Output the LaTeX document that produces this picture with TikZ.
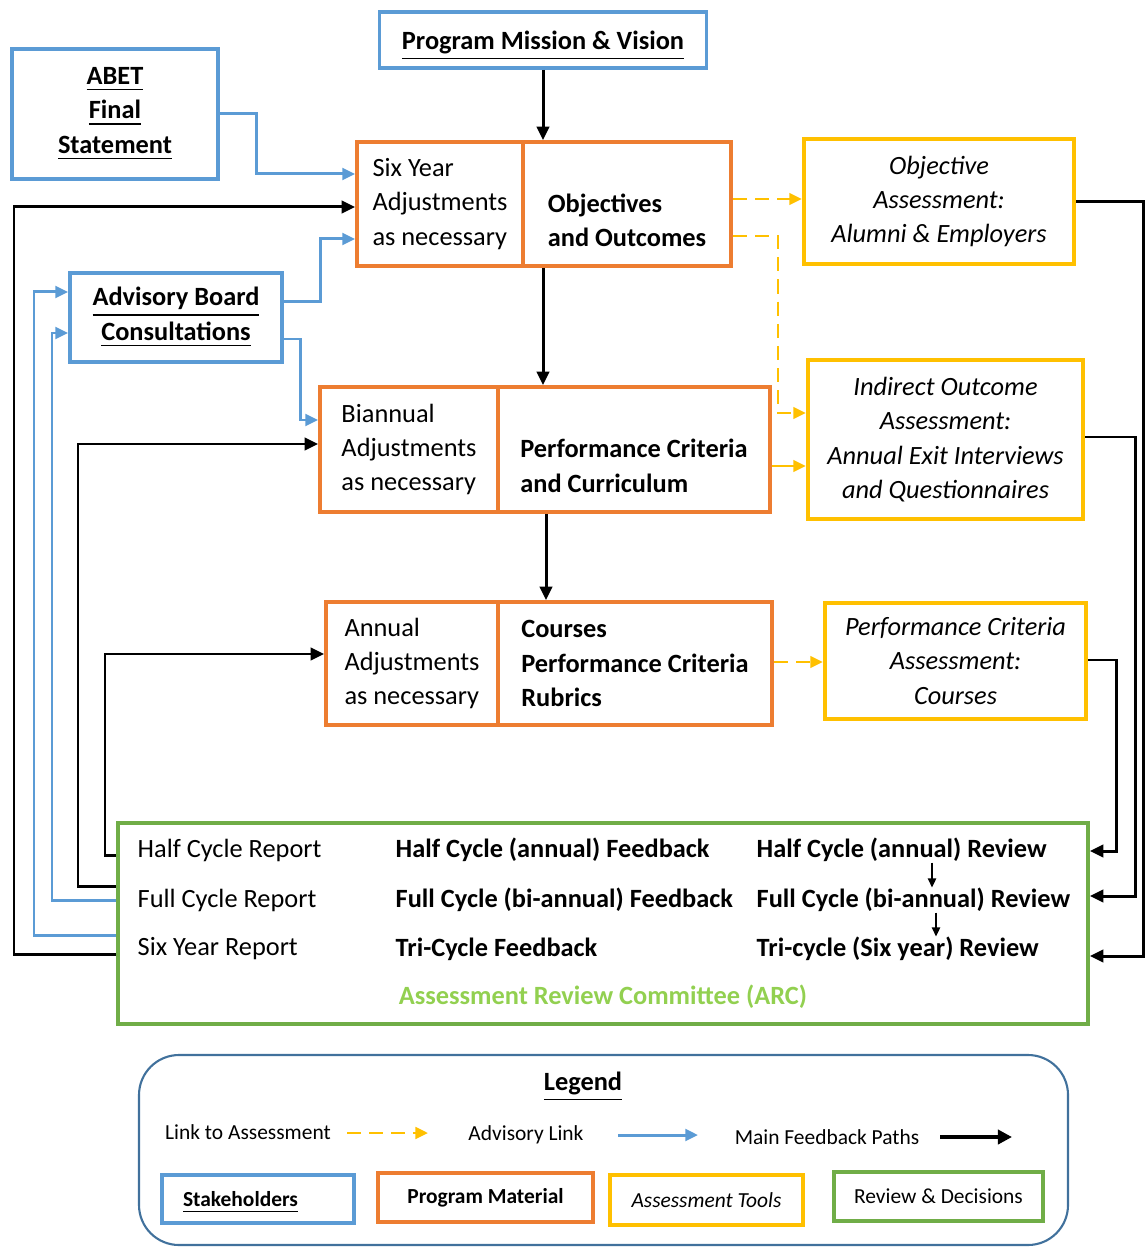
\documentclass[tikz,border=0pt]{standalone}
\usepackage{fontspec}
\setmainfont{Carlito}
\usetikzlibrary{arrows.meta}
\definecolor{stakeblue}{HTML}{5B9BD5}
\definecolor{progorange}{HTML}{ED7D31}
\definecolor{assessyellow}{HTML}{FFC000}
\definecolor{reviewgreen}{HTML}{70AD47}
\definecolor{arcgreen}{HTML}{92D050}
\definecolor{legendblue}{HTML}{41719C}
\tikzset{
  txt/.style={font=\fontsize{7.5}{9.8}\selectfont},
  smalltxt/.style={font=\fontsize{6.1}{7.5}\selectfont},
  stake/.style={draw=stakeblue, line width=1.1pt, txt, align=center, inner sep=0pt},
  prog/.style={draw=progorange, line width=1.1pt, txt, align=left, inner sep=0pt},
  assess/.style={draw=assessyellow, line width=1.2pt, align=center, inner sep=0pt, font=\fontsize{7.5}{9.8}\selectfont\itshape},
  review/.style={draw=reviewgreen, line width=1.1pt, inner sep=0pt},
  fbpath/.style={draw=black, line width=0.85pt, -{Triangle[length=3.8pt,width=3.5pt]}},
  advlink/.style={draw=stakeblue, line width=0.85pt, -{Triangle[length=3.6pt,width=3.3pt]}},
  asslink/.style={draw=assessyellow, line width=0.8pt, dash pattern=on 4pt off 2.3pt, -{Triangle[length=3.6pt,width=3.3pt]}},
}

\begin{document}
\begin{tikzpicture}[x=0.1mm,y=-0.1mm]
  \useasboundingbox (0,0) rectangle (1146,1247);
  %%%%% BOXES %%%%%
  \node[stake, minimum width=32.7mm, minimum height=5.6mm, text depth=0pt] (mission) at (543,40) {\textbf{\underline{Program Mission \& Vision}}};
  \node[stake, minimum width=20.6mm, minimum height=13mm] (abet) at (115,114) {\textbf{\underline{ABET}}\\ \textbf{\underline{Final}}\\ \textbf{\underline{Statement}}};
  \node[stake, minimum width=21.2mm, minimum height=8.9mm] (advis) at (176,317.5) {\textbf{\underline{Advisory Board}}\\ \textbf{\underline{Consultations}}};

  \node[prog, minimum width=16.6mm, minimum height=12.4mm] (sixadj) at (440,204) {Six Year\\ Adjustments\\ as necessary};
  \node[prog, minimum width=20.8mm, minimum height=12.4mm, font=\fontsize{7.5}{9.8}\selectfont\bfseries] (objout) at (627,204) {\vphantom{Ay}\\ Objectives\\ and Outcomes};

  \node[prog, minimum width=17.8mm, minimum height=12.5mm] (biadj) at (409,449.5) {Biannual\\ Adjustments\\ as necessary};
  \node[prog, minimum width=27.2mm, minimum height=12.5mm, font=\fontsize{7.5}{9.8}\selectfont\bfseries] (pccur) at (634,449.5) {\vphantom{Ay}\\ Performance Criteria\\ and Curriculum};

  \node[prog, minimum width=17.2mm, minimum height=12.3mm] (annadj) at (412,663.5) {Annual\\ Adjustments\\ as necessary};
  \node[prog, minimum width=27.4mm, minimum height=12.3mm, font=\fontsize{7.5}{9.8}\selectfont\bfseries] (crs) at (635,663.5) {Courses\\ Performance Criteria\\ Rubrics};

  \node[assess, minimum width=27mm, minimum height=12.5mm] (objass) at (939,201.5) {Objective\\ Assessment:\\ Alumni \& Employers};
  \node[assess, minimum width=27.5mm, minimum height=15.9mm] (indass) at (945.5,439.5) {Indirect Outcome\\ Assessment:\\ Annual Exit Interviews\\ and Questionnaires};
  \node[assess, minimum width=26.1mm, minimum height=11.6mm] (pcass) at (955.5,661) {Performance Criteria\\ Assessment:\\ Courses};

  \node[review, minimum width=97mm, minimum height=20.1mm] (arc) at (603,923.5) {};
  \node[txt, anchor=west, inner sep=0pt] (halfrep) at (137,850) {Half Cycle Report};
  \node[txt, anchor=west, inner sep=0pt] (fullrep) at (137,900) {Full Cycle Report};
  \node[txt, anchor=west, inner sep=0pt] (sixrep) at (137,949) {Six Year Report};
  \node[txt, anchor=west, inner sep=0pt, font=\fontsize{7.5}{9.8}\selectfont\bfseries] (halffb) at (395,850) {Half Cycle (annual) Feedback};
  \node[txt, anchor=west, inner sep=0pt, font=\fontsize{7.5}{9.8}\selectfont\bfseries] (fullfb) at (395,900) {Full Cycle (bi-annual) Feedback};
  \node[txt, anchor=west, inner sep=0pt, font=\fontsize{7.5}{9.8}\selectfont\bfseries] (trifb) at (395,949) {Tri-Cycle Feedback};
  \node[txt, anchor=west, inner sep=0pt, font=\fontsize{7.5}{9.8}\selectfont\bfseries] (halfrev) at (756,850) {Half Cycle (annual) Review};
  \node[txt, anchor=west, inner sep=0pt, font=\fontsize{7.5}{9.8}\selectfont\bfseries] (fullrev) at (756,900) {Full Cycle (bi-annual) Review};
  \node[txt, anchor=west, inner sep=0pt, font=\fontsize{7.5}{9.8}\selectfont\bfseries] (trirev) at (756,949) {Tri-cycle (Six year) Review};
  \node[inner sep=0pt, text=arcgreen, font=\fontsize{7.5}{9.8}\selectfont\bfseries] (arclbl) at (603,997) {Assessment Review Committee (ARC)};
  \coordinate (k1) at (932,0);
  \coordinate (k2) at (936,0);
  \draw[-{Triangle[length=2.6pt,width=2.4pt]}, line width=0.4pt] (halfrev.south -| k1) -- (fullrev.north -| k1);
  \draw[-{Triangle[length=2.6pt,width=2.4pt]}, line width=0.4pt] (fullrev.south -| k2) -- (trirev.north -| k2);

  %%%%% MAIN PATHS %%%%%
  \draw[fbpath] (mission.south) -- (mission.south |- objout.north);
  \draw[fbpath] (mission.south |- objout.south) -- (mission.south |- pccur.north);
  \draw[fbpath] (pccur.south -| 546,0) -- (crs.north -| 546,0);

  \draw[fbpath] (arc.west |- 0,855) -| (105,654) -- (annadj.west |- 0,654);
  \draw[fbpath] (arc.west |- 0,886) -| (78,444) -- (biadj.west |- 0,444);
  \draw[fbpath] (arc.west |- 0,954) -| (14,207) -- (sixadj.west |- 0,207);
  \draw[advlink] (arc.west |- 0,900) -| (52,333) -- (advis.west |- 0,333);
  \draw[advlink] (arc.west |- 0,935) -| (34,292) -- (advis.west |- 0,292);

  \draw[advlink] (abet.east) -| (256,174) -- (sixadj.west |- 0,174);
  \draw[advlink] (advis.east |- 0,302) -| (320,239) -- (sixadj.west |- 0,239);
  \draw[advlink] (advis.east |- 0,339) -| (300,420) -- (biadj.west |- 0,420);

  \draw[asslink] (objout.east |- 0,199) -- (objass.west |- 0,199);
  \draw[asslink] (objout.east |- 0,236) -| (778,413) -- (indass.west |- 0,413);
  \draw[draw=assessyellow, line width=0.8pt, -{Triangle[length=3.6pt,width=3.3pt]}] (pccur.east |- 0,466) -- (indass.west |- 0,466);
  \draw[asslink] (crs.east |- 0,662) -- (pcass.west |- 0,662);

  \draw[fbpath] (objass.east) -| (1143,956) -- (arc.east |- 0,956);
  \draw[fbpath] (indass.east |- 0,437) -| (1135,896) -- (arc.east |- 0,896);
  \draw[fbpath] (pcass.east |- 0,660) -| (1116,851) -- (arc.east |- 0,851);

  %%%%% LEGEND %%%%%
  \node[draw=legendblue, line width=0.6pt, rounded corners=4mm, minimum width=92.9mm, minimum height=19mm] (legend) at (603.5,1150) {};
  \node[inner sep=0pt, text depth=0pt, font=\fontsize{7.5}{9.8}\selectfont\bfseries] (legtitle) at (583,1081) {\underline{Legend}};
  \node[smalltxt, inner sep=0pt] (linktxt) at (248,1132) {Link to Assessment};
  \node[smalltxt, inner sep=0pt] (advtxt) at (526,1135) {Advisory Link};
  \node[smalltxt, inner sep=0pt] (maintxt) at (827,1137) {Main Feedback Paths};
  \coordinate (ya) at (347,1133);
  \coordinate (yb) at (428,1133);
  \coordinate (ba) at (618,1135);
  \coordinate (bb) at (698,1135);
  \coordinate (ka) at (940,1137);
  \coordinate (kb) at (1012,1137);
  \draw[asslink] (ya) -- (yb);
  \draw[advlink] (ba) -- (bb);
  \draw[draw=black, line width=1.2pt, -{Triangle[length=4pt,width=4pt]}] (ka) -- (kb);

  \node[draw=stakeblue, line width=1.1pt, smalltxt, minimum width=19.2mm, minimum height=4.8mm, text width=15mm, inner xsep=2.1mm, text depth=0pt, align=left] (legstake) at (258,1199) {\textbf{\underline{Stakeholders}}};
  \node[draw=progorange, line width=1.1pt, smalltxt, minimum width=21.5mm, minimum height=4.9mm] (legprog) at (485.5,1197.5) {\textbf{Program Material}};
  \node[draw=assessyellow, line width=1.2pt, smalltxt, minimum width=19.3mm, minimum height=5mm] (legass) at (706.5,1200) {\textit{Assessment Tools}};
  \node[draw=reviewgreen, line width=1.1pt, smalltxt, minimum width=20.9mm, minimum height=4.9mm] (legrev) at (938.5,1196.5) {Review \& Decisions};
\end{tikzpicture}
\end{document}
